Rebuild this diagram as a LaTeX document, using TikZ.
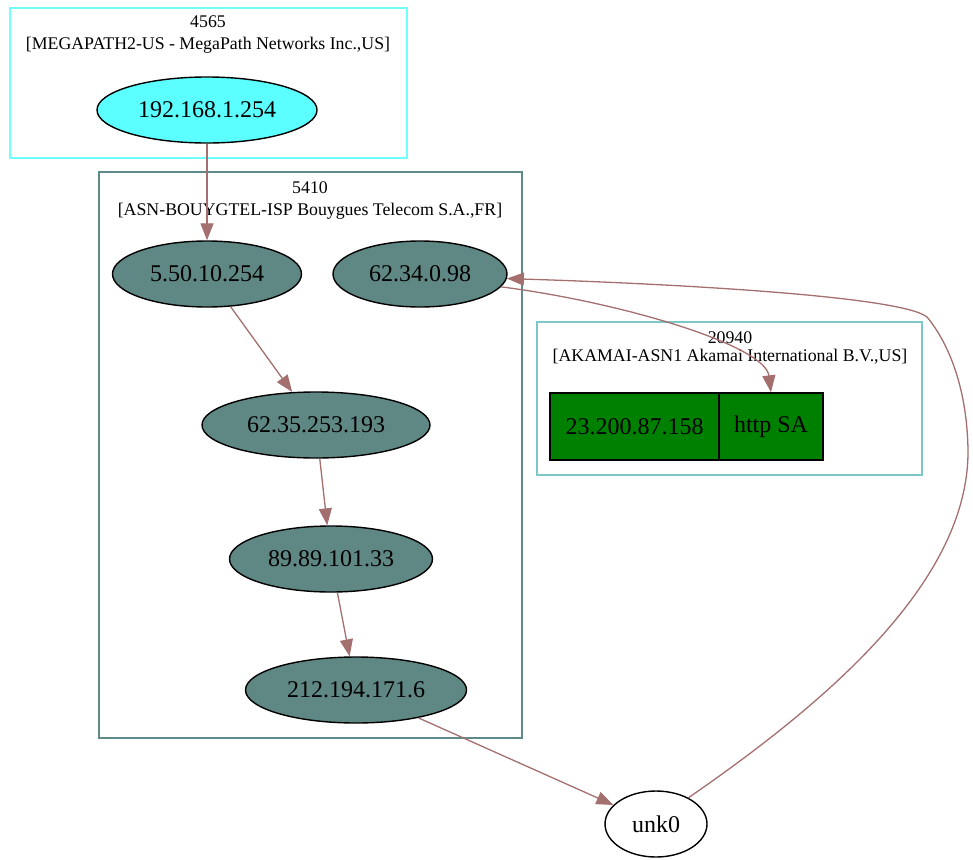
\documentclass[tikz,border=0pt]{standalone}
\usepackage{fontspec}
\setmainfont{Liberation Serif}
\usetikzlibrary{shapes.geometric,arrows.meta}
\definecolor{edgec}{HTML}{A46F6F}
\definecolor{cyanbd}{HTML}{70FFFF}
\definecolor{cyanfill}{HTML}{5CFFFF}
\definecolor{tealbd}{HTML}{5F8A8A}
\definecolor{tealfill}{HTML}{5F8784}
\definecolor{akabd}{HTML}{7CC8C8}
\definecolor{greenfill}{HTML}{008000}
\tikzset{
  ipnode/.style={ellipse,draw=black,line width=1.4pt,inner sep=0pt,minimum height=66pt,font=\fontsize{24}{28}\selectfont},
  clus/.style={line width=1.6pt},
  clabel/.style={font=\fontsize{17.8}{21}\selectfont,inner sep=0pt},
  recpart/.style={rectangle,draw=black,line width=1.4pt,fill=greenfill,minimum height=67pt,inner sep=0pt,font=\fontsize{24}{28}\selectfont},
  link/.style={draw=edgec,line width=1.3pt,-{Triangle[length=17pt,width=13pt]}}
}
\begin{document}
\begin{tikzpicture}[x=1pt,y=-1pt]
\useasboundingbox (0,0) rectangle (973,859);
% clusters
\draw[clus,draw=cyanbd] (10,8) rectangle (407,158);
\node[clabel] (l4565a) at (208,22) {4565};
\node[clabel] (l4565b) at (208,45) {[MEGAPATH2-US - MegaPath Networks Inc.,US]};
\draw[clus,draw=tealbd] (99,172) rectangle (522,738);
\node[clabel] (l5410a) at (310,188) {5410};
\node[clabel] (l5410b) at (310,211) {[ASN-BOUYGTEL-ISP Bouygues Telecom S.A.,FR]};
\draw[clus,draw=akabd] (537,322) rectangle (922,475);
\node[clabel] (l20940a) at (730,338) {20940};
\node[clabel] (l20940b) at (730,357) {[AKAMAI-ASN1 Akamai International B.V.,US]};
% nodes
\node[ipnode,fill=cyanfill,minimum width=220pt] (n192) at (207,110) {192.168.1.254};
\node[ipnode,fill=tealfill,minimum width=189pt] (n550) at (207,274) {5.50.10.254};
\node[ipnode,fill=tealfill,minimum width=174pt] (n6234) at (420,274) {62.34.0.98};
\node[ipnode,fill=tealfill,minimum width=228pt] (n6235) at (316,425) {62.35.253.193};
\node[ipnode,fill=tealfill,minimum width=203pt] (n8989) at (331,559) {89.89.101.33};
\node[ipnode,fill=tealfill,minimum width=221pt] (n212) at (356,690) {212.194.171.6};
\node[ipnode,fill=white,minimum width=102pt] (unk) at (656,824) {unk0};
\node[recpart,minimum width=169pt] (rip) at (634.5,426.5) {23.200.87.158};
\node[recpart,minimum width=104pt] (rhttp) at (771,426.5) {http SA};
% edges
\draw[link] (n192) -- (n550);
\draw[link] (n550) -- (n6235);
\draw[link] (n6235) -- (n8989);
\draw[link] (n8989) -- (n212);
\draw[link] (n212) -- (unk);
\draw[link] (unk.39) .. controls (830,700) and (969,580) .. (968,450)
  .. controls (967,390) and (950,345) .. (927,317)
  .. controls (900,295) and (650,283) .. (n6234.-3);
\draw[link] (n6234.-9) .. controls (620,302) and (765,345) .. (rhttp.north);
\end{tikzpicture}
\end{document}
